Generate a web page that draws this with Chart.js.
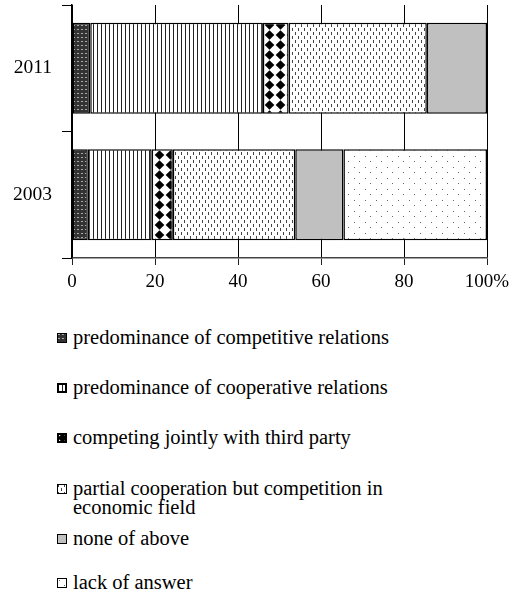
<!DOCTYPE html>
<html>
<head>
<meta charset="utf-8">
<script src="https://cdn.jsdelivr.net/npm/chart.js@4"></script>
<style>
  html, body { margin: 0; padding: 0; background: #fff; }
  #wrap { position: relative; width: 532px; height: 606px; }
  #chartBox { position: absolute; left: 0; top: 0; width: 532px; height: 300px; }
  #legend { position: absolute; left: 0; top: 0; font-family: "Liberation Serif", "Times New Roman", serif; font-size: 20.5px; color: #000; }
  .item { position: absolute; left: 57px; padding-left: 16px; line-height: 19px; white-space: nowrap; }
  .item canvas { position: absolute; left: 0; top: 5px; }
</style>
</head>
<body>
<div id="wrap">
  <div id="chartBox"><canvas id="chart"></canvas></div>
  <div id="legend"></div>
</div>
<script>
// données (en %)
const years = ['2011', '2003'];
const seriesNames = [
    'predominance of competitive relations',
    'predominance of cooperative relations',
    'competing jointly with third party',
    'partial cooperation but competition in economic field',
    'none of above',
    'lack of answer'
];
const competitive = [4.4, 3.8];
const cooperative = [41.6, 15.4];
const thirdParty = [6.2, 5.1];
const partial = [33.3, 29.5];
const noneOfAbove = [14.5, 11.6];
const noAnswer = [0, 34.6];
const xTicks = [0, 20, 40, 60, 80, 100];

// motifs de remplissage
function makeTile(w, h, draw) {
    const c = document.createElement('canvas');
    c.width = w; c.height = h;
    const g = c.getContext('2d');
    draw(g);
    return c;
}
const tiles = [
    makeTile(4, 4, g => { g.fillStyle = '#333'; g.fillRect(0, 0, 4, 4); g.fillStyle = '#aaa'; g.fillRect(1, 1, 2, 1); }),
    makeTile(4, 4, g => { g.fillStyle = '#fff'; g.fillRect(0, 0, 4, 4); g.fillStyle = '#222'; g.fillRect(1, 0, 1, 4); }),
    makeTile(11, 10, g => {
        g.fillStyle = '#fff'; g.fillRect(0, 0, 11, 10);
        g.fillStyle = '#000';
        g.beginPath(); g.moveTo(5.5, 0.3); g.lineTo(10.3, 5); g.lineTo(5.5, 9.7); g.lineTo(0.7, 5); g.closePath(); g.fill();
    }),
    makeTile(6, 8, g => { g.fillStyle = '#fff'; g.fillRect(0, 0, 6, 8); g.fillStyle = '#444'; g.fillRect(1, 0, 1, 3); g.fillRect(4, 4, 1, 3); }),
    makeTile(4, 4, g => { g.fillStyle = '#c0c0c0'; g.fillRect(0, 0, 4, 4); }),
    makeTile(11, 11, g => { g.fillStyle = '#fff'; g.fillRect(0, 0, 11, 11); g.fillStyle = '#666'; g.fillRect(2, 2, 1, 1); g.fillRect(7, 7, 1, 1); })
];

const ctx = document.getElementById('chart').getContext('2d');
const fills = tiles.map(t => ctx.createPattern(t, 'repeat'));
const values = [competitive, cooperative, thirdParty, partial, noneOfAbove, noAnswer];

new Chart(ctx, {
    type: 'bar',
    data: {
        labels: years,
        datasets: values.map((v, i) => ({
            label: seriesNames[i],
            data: v,
            backgroundColor: fills[i],
            borderColor: '#000',
            borderWidth: 1.5,
            borderSkipped: false,
            barPercentage: 0.72,
            categoryPercentage: 1
        }))
    },
    options: {
        indexAxis: 'y',
        responsive: true,
        maintainAspectRatio: false,
        animation: false,
        layout: { padding: { top: 5, right: 45, left: 0, bottom: 0 } },
        plugins: { legend: { display: false }, tooltip: { enabled: false } },
        scales: {
            x: {
                stacked: true,
                min: 0,
                max: 100,
                afterBuildTicks: s => { s.ticks = xTicks.map(v => ({ value: v })); },
                afterFit: s => { s.height = 42; },
                ticks: {
                    color: '#000',
                    padding: 6,
                    font: { family: 'Liberation Serif', size: 19 },
                    callback: v => v === 100 ? '100%' : v
                },
                grid: {
                    color: '#000',
                    lineWidth: 1,
                    borderDash: [4, 3],
                    tickBorderDash: [],
                    tickLength: 7,
                    tickColor: '#222'
                },
                border: { color: '#444', width: 1.5 }
            },
            y: {
                stacked: true,
                afterFit: s => { s.width = 72; s.paddingTop = 0; s.paddingBottom = 0; },
                ticks: {
                    color: '#000',
                    padding: 10,
                    font: { family: 'Liberation Serif', size: 19.5 }
                },
                grid: {
                    drawOnChartArea: false,
                    drawTicks: true,
                    tickLength: 10,
                    tickColor: '#000',
                    offset: true
                },
                border: { color: '#000', width: 1.5 }
            }
        }
    }
});

// légende HTML
const legendTexts = [
    'predominance of competitive relations',
    'predominance of cooperative relations',
    'competing jointly with third party',
    'partial cooperation but competition in<br>economic field',
    'none of above',
    'lack of answer'
];
const legendCenters = [338, 388, 438, 489, 539, 583];
const legend = document.getElementById('legend');
legendTexts.forEach((t, i) => {
    const d = document.createElement('div');
    d.className = 'item';
    d.style.top = (legendCenters[i] - 10) + 'px';
    const c = document.createElement('canvas');
    c.width = 10; c.height = 10;
    const g = c.getContext('2d');
    g.fillStyle = g.createPattern(tiles[i], 'repeat');
    g.fillRect(0, 0, 10, 10);
    g.strokeStyle = '#000';
    const thick = (i === 1 || i === 2);
    g.lineWidth = thick ? 2 : 1;
    if (thick) g.strokeRect(1, 1, 8, 8); else g.strokeRect(0.5, 0.5, 9, 9);
    d.appendChild(c);
    const s = document.createElement('span');
    s.innerHTML = t;
    d.appendChild(s);
    legend.appendChild(d);
});
</script>
</body>
</html>
